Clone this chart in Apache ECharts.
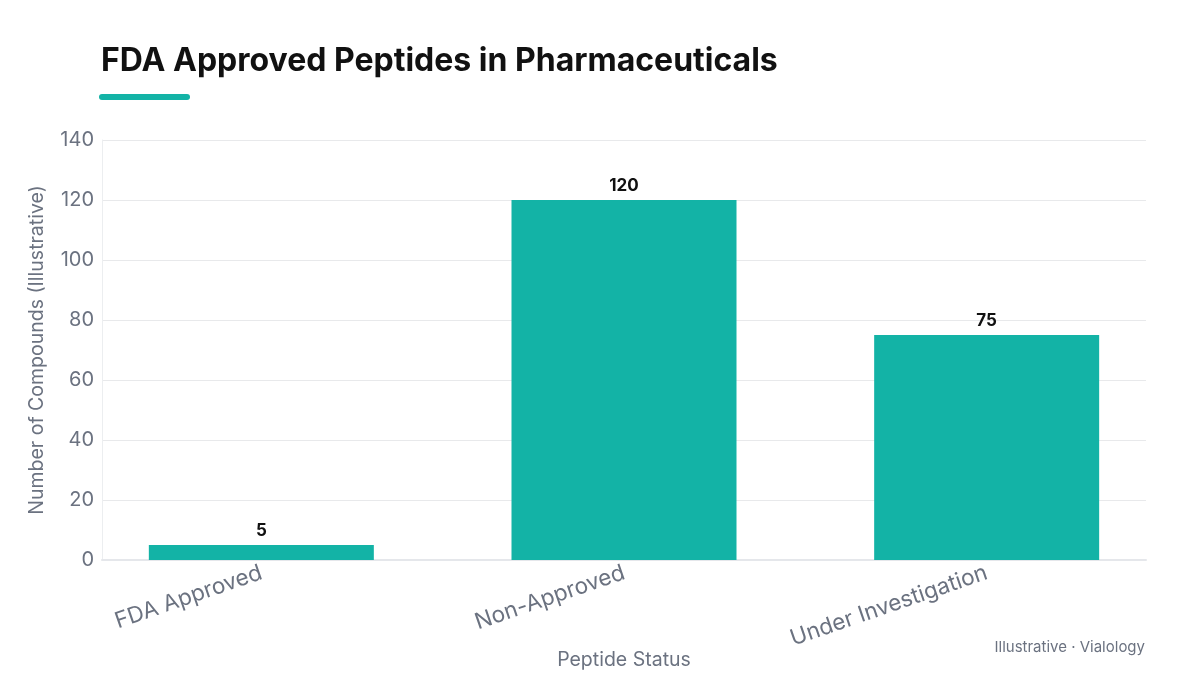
<!DOCTYPE html>
<html>
<head>
<meta charset="utf-8">
<script src="https://cdn.jsdelivr.net/npm/echarts@6/dist/echarts.min.js"></script>
<style>html,body{margin:0;padding:0;background:#fff;}#c{width:1200px;height:675px;}</style>
</head>
<body>
<div id="c"></div>
<script>
const categories = ['FDA Approved', 'Non-Approved', 'Under Investigation'];
const values = [5, 120, 75];
const yTicks = [0, 20, 40, 60, 80, 100, 120, 140];

const FONT = 'Inter, "Noto Sans", sans-serif';
const GRAY = '#6b7280';
const TEAL = '#13b3a6';
const chart = echarts.init(document.getElementById('c'));
chart.setOption({
  animation: false,
  backgroundColor: '#ffffff',
  title: {
    text: 'FDA Approved Peptides in Pharmaceuticals',
    left: 96, top: 40,
    textStyle: { fontFamily: FONT, fontSize: 32, fontWeight: 'bold', color: '#111111' }
  },
  graphic: [
    { type: 'rect', left: 99, top: 94, shape: { width: 91, height: 6, r: 3 }, style: { fill: TEAL } },
    { type: 'text', right: 55, top: 640, style: { text: 'Illustrative · Vialology', font: '15px ' + FONT, fill: GRAY } }
  ],
  grid: [
    { left: 102, right: 54, top: 140, bottom: 115 },
    { left: 80, right: 32, top: 140, bottom: 115 }
  ],
  xAxis: [
    { type: 'value', gridIndex: 0, min: 0, max: 1, show: true,
      axisLine: { show: true, lineStyle: { color: '#e5e7eb', width: 2 } },
      axisTick: { show: false }, axisLabel: { show: false }, splitLine: { show: false },
      name: 'Peptide Status', nameLocation: 'middle', nameGap: 90,
      nameTextStyle: { fontFamily: FONT, fontSize: 19.5, color: GRAY } },
    { type: 'category', gridIndex: 1, data: categories,
      axisLine: { show: false }, axisTick: { show: false },
      axisLabel: { rotate: 19, margin: 12, fontFamily: FONT, fontSize: 22.5, color: GRAY } }
  ],
  yAxis: [
    { type: 'value', gridIndex: 0, min: yTicks[0], max: yTicks[yTicks.length - 1], interval: 20,
      axisLine: { show: true, lineStyle: { color: '#eceef0', width: 1 } },
      axisTick: { show: false },
      axisLabel: { margin: 8, fontFamily: FONT, fontSize: 20, color: GRAY },
      splitLine: { lineStyle: { color: '#e8e9eb', width: 1 } },
      name: 'Number of Compounds (Illustrative)', nameLocation: 'middle', nameGap: 55,
      nameTextStyle: { fontFamily: FONT, fontSize: 19.5, color: GRAY } },
    { type: 'value', gridIndex: 1, min: 0, max: 140, show: false, splitLine: { show: false } }
  ],
  series: [{
    type: 'bar', xAxisIndex: 1, yAxisIndex: 1,
    data: values, barWidth: 225,
    itemStyle: { color: TEAL },
    label: { show: true, position: 'top', distance: 6, fontFamily: FONT, fontSize: 17, fontWeight: 'bold', color: '#111111' }
  }]
});
</script>
</body>
</html>
